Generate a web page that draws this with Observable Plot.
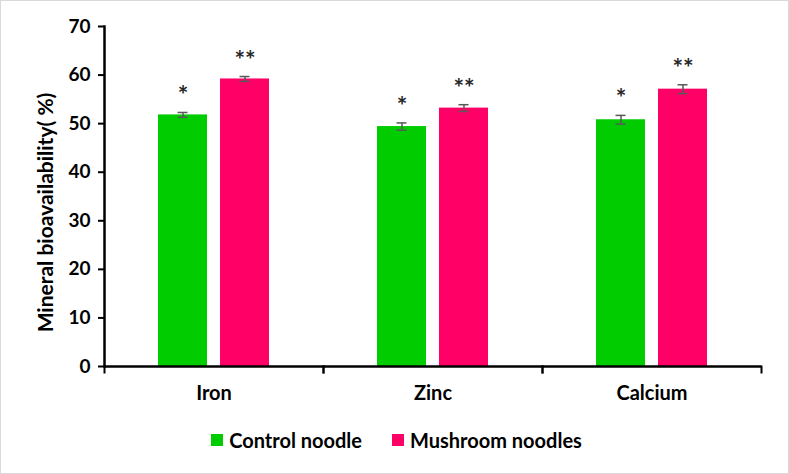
<!DOCTYPE html>
<html>
<head>
<meta charset="utf-8">
<script src="https://cdn.jsdelivr.net/npm/d3@7"></script>
<script src="https://cdn.jsdelivr.net/npm/@observablehq/plot@0.6"></script>
<style>
  html, body { margin: 0; padding: 0; background: #fff; }
  #wrap { position: relative; width: 789px; height: 474px; box-sizing: border-box; border: 1px solid #d9d9d9; font-family: Lato, "Open Sans", sans-serif; }
  #legend { position: absolute; left: 0; right: 0; top: 427px; display: flex; justify-content: center; gap: 30px; font-weight: bold; font-size: 20px; color: #000; padding-left: 4px; }
  .item { display: flex; align-items: center; gap: 6px; }
  .sw { width: 12px; height: 12px; display: inline-block; }
</style>
</head>
<body>
<div id="wrap"><div id="chart"></div><div id="legend"></div></div>
<script>
const minerals = ["Iron", "Zinc", "Calcium"];
const seriesNames = ["Control noodle", "Mushroom noodles"];
const seriesColors = ["#00CC00", "#FF0066"];
const controlValues = [51.8, 49.4, 50.8];
const controlErrors = [0.5, 0.75, 0.9];
const mushroomValues = [59.2, 53.2, 57.1];
const mushroomErrors = [0.5, 0.7, 0.9];
const controlMarks = ["*", "*", "*"];
const mushroomMarks = ["**", "**", "**"];
const yTicks = [0, 10, 20, 30, 40, 50, 60, 70];
const yLabel = "Mineral bioavailability( %)";

const data = [];
minerals.forEach((m, i) => {
  data.push({mineral: m, series: seriesNames[0], value: controlValues[i], err: controlErrors[i], sig: controlMarks[i]});
  data.push({mineral: m, series: seriesNames[1], value: mushroomValues[i], err: mushroomErrors[i], sig: mushroomMarks[i]});
});

const font = "Lato, 'Open Sans', sans-serif";
const chart = Plot.plot({
  width: 787,
  height: 412,
  marginLeft: 102,
  marginRight: 26,
  marginTop: 25,
  marginBottom: 47,
  style: {fontFamily: font, fontWeight: "bold", color: "#000", background: "#fff", fontSize: "19px"},
  fx: {domain: minerals, padding: 0, label: null},
  x: {domain: seriesNames, paddingInner: 0.208, paddingOuter: 0.862, axis: null},
  y: {domain: [0, 70], label: null},
  color: {domain: seriesNames, range: seriesColors},
  marks: [
    Plot.barY(data, {fx: "mineral", x: "series", y: "value", fill: "series"}),
    Plot.ruleX(data, {fx: "mineral", x: "series", y1: d => d.value - d.err, y2: d => d.value + d.err, stroke: "#595959", strokeWidth: 1.5}),
    Plot.tickY(data, {fx: "mineral", x: "series", y: d => d.value - d.err, stroke: "#595959", strokeWidth: 1.5, insetLeft: 19.5, insetRight: 19.5}),
    Plot.tickY(data, {fx: "mineral", x: "series", y: d => d.value + d.err, stroke: "#595959", strokeWidth: 1.5, insetLeft: 19.5, insetRight: 19.5}),
    Plot.text(data, {fx: "mineral", x: "series", y: d => d.value + d.err, text: "sig", dy: -16, fontSize: 25, fontWeight: "bold", fill: "#262626"}),
    Plot.ruleY([0], {stroke: "#000", strokeWidth: 2.5}),
    Plot.frame({anchor: "left", facetAnchor: "left", stroke: "#000", strokeWidth: 2.5}),
    Plot.frame({anchor: "left", stroke: "#000", strokeWidth: 2, insetTop: 340, insetBottom: -6}),
    Plot.frame({anchor: "right", stroke: "#000", strokeWidth: 2, insetTop: 340, insetBottom: -6}),
    Plot.axisY({ticks: yTicks, tickSize: 6, tickPadding: 8, strokeWidth: 2, stroke: "#000", fontSize: 19, fontWeight: "bold", label: null}),
    Plot.text([yLabel], {frameAnchor: "left", facetAnchor: "left", textAnchor: "middle", rotate: -90, dx: -58, dy: 16, fontSize: 21, fontWeight: "bold", fill: "#000"}),
    Plot.axisFx({anchor: "bottom", tickSize: 0, tickPadding: 19, fontSize: 20, fontWeight: "bold", label: null})
  ]
});
document.getElementById("chart").appendChild(chart);

const legend = document.getElementById("legend");
seriesNames.forEach((s, i) => {
  const it = document.createElement("div");
  it.className = "item";
  const sw = document.createElement("span");
  sw.className = "sw";
  sw.style.background = seriesColors[i];
  const t = document.createElement("span");
  t.textContent = s;
  it.appendChild(sw); it.appendChild(t);
  legend.appendChild(it);
});
</script>
</body>
</html>
